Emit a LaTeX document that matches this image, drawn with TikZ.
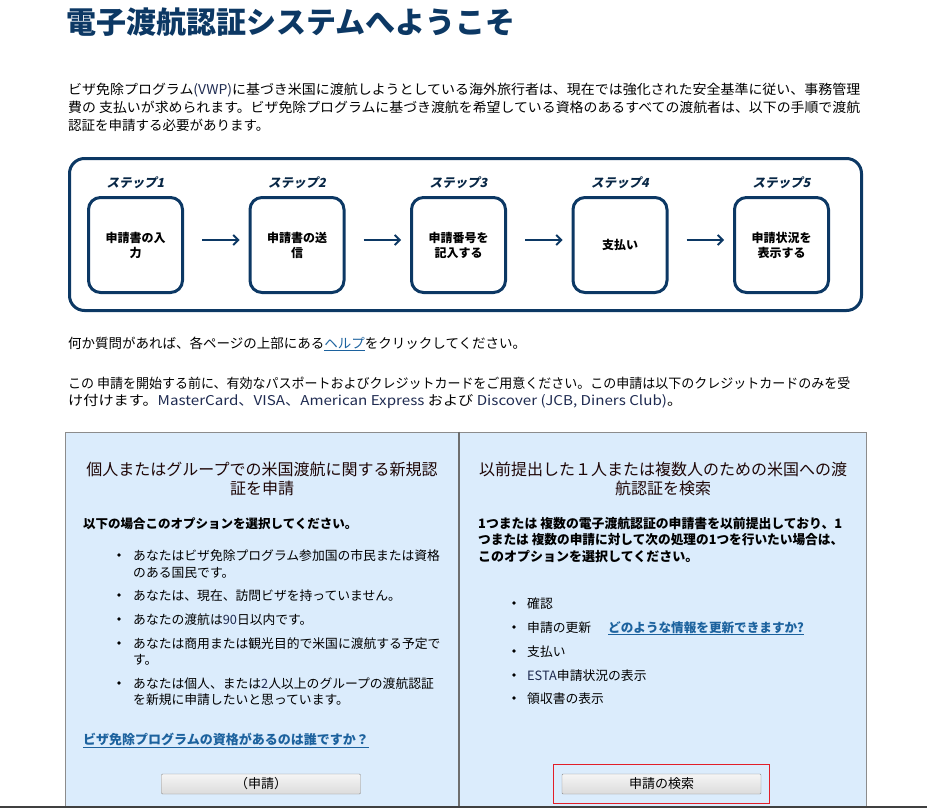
\documentclass[tikz,border=0pt]{standalone}
\usepackage{graphicx}
\usepackage{fontspec}
\setmainfont{Noto Sans CJK JP}
\newfontfamily\stepfont[FakeSlant=0.22]{Noto Sans CJK JP}
\usetikzlibrary{arrows.meta,positioning}

\definecolor{esNavy}{RGB}{12,56,100}
\definecolor{linkBlue}{RGB}{28,98,158}
\definecolor{latinInk}{RGB}{30,42,80}
\definecolor{headInk}{RGB}{30,6,6}
\definecolor{panelBlue}{RGB}{219,236,252}
\definecolor{panelGray}{RGB}{140,140,140}
\definecolor{dividerGray}{RGB}{110,110,110}
\definecolor{frameRed}{RGB}{226,30,40}

% squeeze or stretch one line of text to a given width
\newcommand{\fitline}[2]{\resizebox{#1}{\height}{#2}}

\begin{document}
\begin{tikzpicture}[x=1pt,y=-1pt,
	plain/.style={anchor=base west, inner sep=0pt, font=\fontsize{13.5}{16}\selectfont},
	item/.style={anchor=base west, inner sep=0pt, font=\fontsize{12.8}{15}\selectfont},
	strong/.style={anchor=base west, inner sep=0pt, font=\fontsize{13}{15}\selectfont\bfseries},
	head/.style={align=center, inner sep=0pt, text=headInk, font=\fontsize{16}{18.5}\selectfont},
	stepbox/.style={draw=esNavy, line width=3pt, rounded corners=12pt, minimum width=94pt, minimum height=95pt, inner sep=0pt, align=center, font=\fontsize{12}{15}\selectfont\bfseries},
	steplabel/.style={inner sep=0pt, label distance=7pt, text=esNavy!70!black, font=\stepfont\bfseries\fontsize{12.5}{14}\selectfont},
	flow/.style={-{Straight Barb[length=5pt,width=10pt]}, draw=esNavy, line width=1.8pt, shorten <=18pt, shorten >=9pt},
	dot/.style={circle, fill=black, inner sep=0pt, minimum size=3.6pt},
	button/.style={draw=panelGray, rounded corners=1pt, top color=white!96!black, bottom color=white!86!black, minimum width=199pt, minimum height=20pt, inner sep=0pt, font=\fontsize{13}{15}\selectfont},
	panel/.style={draw=panelGray, line width=1pt, fill=panelBlue, minimum height=375pt, inner sep=0pt}]

	\useasboundingbox (0,0) rectangle (927,808);

	% title and intro text
	\node[anchor=base west, inner sep=0pt, text=esNavy, font=\fontsize{30}{34}\selectfont\bfseries](title) at (66,34){電子渡航認証システムへようこそ};
	\node[plain](introA) at (68,95){\fitline{792pt}{ビザ免除プログラム\textcolor{latinInk}{(VWP)}に基づき米国に渡航しようとしている海外旅行者は、現在では強化された安全基準に従い、事務管理}};
	\node[plain](introB) at (68,113){\fitline{792pt}{費の 支払いが求められます。ビザ免除プログラムに基づき渡航を希望している資格のあるすべての渡航者は、以下の手順で渡航}};
	\node[plain](introC) at (68,131){認証を申請する必要があります。};

	% step frame and steps
	\node[draw=esNavy, line width=3pt, rounded corners=15pt, minimum width=792pt, minimum height=152pt](stepFrame) at (465.5,234.5){};
	\node[stepbox, label={[steplabel]above:ステップ1}](stepOne) at (135.5,245){申請書の入\\力};
	\node[stepbox, label={[steplabel]above:ステップ2}](stepTwo) at (297,245){申請書の送\\信};
	\node[stepbox, label={[steplabel]above:ステップ3}](stepThree) at (458.5,245){申請番号を\\記入する};
	\node[stepbox, label={[steplabel]above:ステップ4}](stepFour) at (620,245){支払い};
	\node[stepbox, label={[steplabel]above:ステップ5}](stepFive) at (781.5,245){申請状況を\\表示する};

	% draw step edges
	\draw[flow] ([yshift=5pt]stepOne.east) -- ([yshift=5pt]stepTwo.west);
	\draw[flow] ([yshift=5pt]stepTwo.east) -- ([yshift=5pt]stepThree.west);
	\draw[flow] ([yshift=5pt]stepThree.east) -- ([yshift=5pt]stepFour.west);
	\draw[flow] ([yshift=5pt]stepFour.east) -- ([yshift=5pt]stepFive.west);

	% help and card text
	\node[plain](helpLine) at (68,348){何か質問があれば、各ページの上部にある\textcolor{linkBlue}{\underline{ヘルプ}}をクリックしてください。};
	\node[plain](cardA) at (68,388){\fitline{782pt}{この 申請を開始する前に、有効なパスポートおよびクレジットカードをご用意ください。この申請は以下のクレジットカードのみを受}};
	\node[plain](cardB) at (68,405){\fitline{614pt}{け付けます。\textcolor{latinInk}{MasterCard、VISA、American Express} および \textcolor{latinInk}{Discover (JCB, Diners Club)}。}};

	% panels
	\node[panel, minimum width=393pt](newPanel) at (261.5,619.5){};
	\node[panel, minimum width=408pt](lookupPanel) at (662,619.5){};
	\draw[dividerGray, line width=2pt] (newPanel.north east) -- (newPanel.south east);
	\draw[black!75, line width=2pt] (0,807) -- (927,807);

	% left panel: new application
	\node[head](newHead) at (262,479){個人またはグループでの米国渡航に関する新規認\\証を申請};
	\node[strong, font=\fontsize{12.5}{15}\selectfont\bfseries](newIntro) at (83,528){以下の場合このオプションを選択してください。};

	\node[dot](newDotA) at (119,555){};
	\node[dot](newDotB) at (119,595){};
	\node[dot](newDotC) at (119,619){};
	\node[dot](newDotD) at (119,643){};
	\node[dot](newDotE) at (119,683){};
	\node[item](newItemA) at (133,560){あなたはビザ免除プログラム参加国の市民または資格};
	\node[item](newItemA2) at (133,577){のある国民です。};
	\node[item](newItemB) at (133,600){あなたは、現在、訪問ビザを持っていません。};
	\node[item](newItemC) at (133,624){あなたの渡航は\textcolor{latinInk}{90}日以内です。};
	\node[item](newItemD) at (133,648){あなたは商用または観光目的で米国に渡航する予定で};
	\node[item](newItemD2) at (133,664){す。};
	\node[item](newItemE) at (133,688){あなたは個人、または\textcolor{latinInk}{2}人以上のグループの渡航認証};
	\node[item](newItemE2) at (133,704){を新規に申請したいと思っています。};

	\node[strong, text=linkBlue](newLink) at (83,744){\underline{ビザ免除プログラムの資格があるのは誰ですか？}};
	\node[button](applyButton) at (261,784){（申請）};

	% right panel: look up an application
	\node[head](lookupHead) at (663,479){以前提出した１人または複数人のための米国への渡\\航認証を検索};
	\node[strong](lookupIntroA) at (478,528){\fitline{364pt}{1つまたは 複数の電子渡航認証の申請書を以前提出しており、1}};
	\node[strong](lookupIntroB) at (478,544){\fitline{365pt}{つまたは 複数の申請に対して次の処理の1つを行いたい場合は、}};
	\node[strong](lookupIntroC) at (478,561){このオプションを選択してください。};

	\node[dot](lookupDotA) at (514,603){};
	\node[dot](lookupDotB) at (514,627){};
	\node[dot](lookupDotC) at (514,651){};
	\node[dot](lookupDotD) at (514,675){};
	\node[dot](lookupDotE) at (514,698){};
	\node[item](lookupItemA) at (527,608){確認};
	\node[item](lookupItemB) at (527,632){申請の更新};
	\node[strong, font=\fontsize{12.6}{15}\selectfont\bfseries, text=linkBlue](lookupLink) at (608,632){\underline{どのような情報を更新できますか?}};
	\node[item](lookupItemC) at (527,656){支払い};
	\node[item](lookupItemD) at (527,680){\textcolor{latinInk}{ESTA}申請状況の表示};
	\node[item](lookupItemE) at (527,703){領収書の表示};

	\node[draw=frameRed, line width=1pt, minimum width=216pt, minimum height=39pt, inner sep=0pt](searchFrame) at (661,783.5){};
	\node[button](searchButton) at (661.5,784){申請の検索};

\end{tikzpicture}
\end{document}
